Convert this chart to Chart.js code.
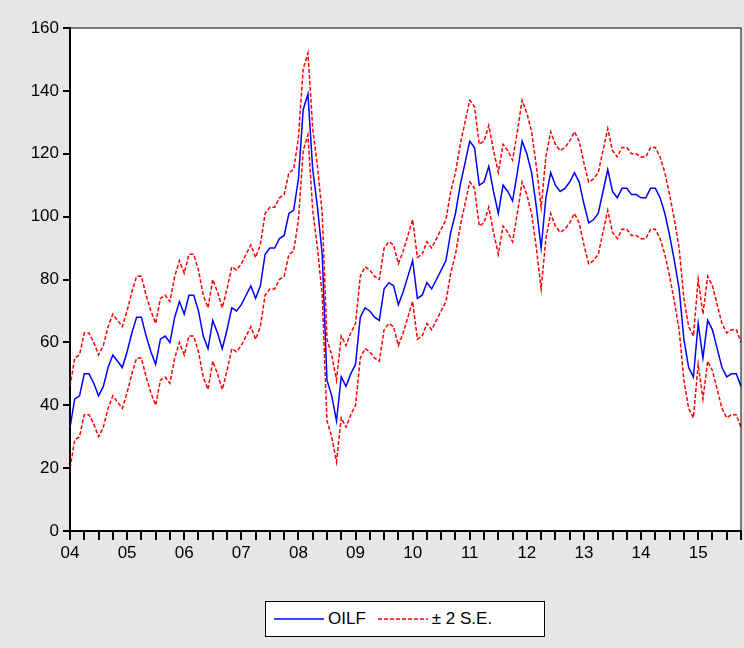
<!DOCTYPE html>
<html>
<head>
<meta charset="utf-8">
<script src="https://cdn.jsdelivr.net/npm/chart.js@4.4.0/dist/chart.umd.min.js"></script>
<style>
  body { margin: 0; background: #e6e6e6; }
  #wrap { position: relative; width: 744px; height: 648px; background: #e6e6e6; }
  #c { position: absolute; left: 0; top: 0; }
  #legend { position: absolute; left: 265px; top: 601px; width: 280px; height: 36px; background: #fff;
    border: 1px solid #000; font: 17px "Liberation Sans", Arial, sans-serif; display: flex; align-items: center; box-sizing: border-box; }
  #legend span { margin-right: 10px; }
</style>
</head>
<body>
<div id="wrap">
  <canvas id="c" width="744" height="575"></canvas>
  <div id="legend">
    <svg width="56" height="10" style="margin-left:6px"><line x1="2" y1="5" x2="52" y2="5" stroke="#0000ff" stroke-width="1.5"/></svg>
    <span>OILF</span>
    <svg width="56" height="10"><line x1="2" y1="5" x2="52" y2="5" stroke="#ff0000" stroke-width="1.5" stroke-dasharray="4,2"/></svg>
    <span>± 2 S.E.</span>
  </div>
</div>
<script>
const years = ['04','05','06','07','08','09','10','11','12','13','14','15'];
const oilf = [33,42,43,50,50,47,43,46,52,56,54,52, 57,63,68,68,62,57,53,61,62,60,68,73,
  69,75,75,70,62,58,67,63,58,64,71,70, 72,75,78,74,78,88,90,90,93,94,101,102,
  112,134,139,115,103,88,48,43,35,49,46,50, 53,68,71,70,68,67,77,79,78,72,76,81,
  86,74,75,79,77,80,83,86,95,101,110,117, 124,122,110,111,116,108,101,110,108,105,114,124,
  120,114,103,90,106,114,110,108,109,111,114,111, 104,98,99,101,108,115,108,106,109,109,107,107,
  106,106,109,109,106,101,94,86,77,61,52,49, 66,55,67,64,58,52,49,50,50,46];
const upper = [46,55,56,63,63,60,56,59,65,69,67,65, 70,76,81,81,75,70,66,74,75,73,81,86,
  82,88,88,83,75,71,80,76,71,77,84,83, 85,88,91,87,91,101,103,103,106,107,114,115,
  125,147,152,128,116,101,61,56,48,62,59,63, 66,81,84,83,81,80,90,92,91,85,89,94,
  99,87,88,92,90,93,96,99,108,114,123,130, 137,135,123,124,129,121,114,123,121,118,127,137,
  133,127,116,103,119,127,123,121,122,124,127,124, 117,111,112,114,121,128,121,119,122,122,120,120,
  119,119,122,122,119,114,107,99,90,74,65,62, 80,69,81,78,72,66,63,64,64,60];
const lower = [20,29,30,37,37,34,30,33,39,43,41,39, 44,50,55,55,49,44,40,48,49,47,55,60,
  56,62,62,57,49,45,54,50,45,51,58,57, 59,62,65,61,65,75,77,77,80,81,88,89,
  99,121,126,102,90,75,35,30,22,36,33,37, 40,55,58,57,55,54,64,66,65,59,63,68,
  73,61,62,66,64,67,70,73,82,88,97,104, 111,109,97,98,103,95,88,97,95,92,101,111,
  107,101,90,77,93,101,97,95,96,98,101,98, 91,85,86,88,95,102,95,93,96,96,94,94,
  93,93,96,96,93,88,81,73,64,48,39,36, 53,42,54,51,45,39,36,37,37,33];

const labels = oilf.map((v, i) => i % 12 === 0 ? years[i / 12] : '');

const frame = {
  id: 'frame',
  beforeDraw(chart) {
    const a = chart.chartArea, ctx = chart.ctx;
    ctx.save();
    ctx.fillStyle = '#fff';
    ctx.fillRect(a.left, a.top, a.right - a.left, a.bottom - a.top);
    ctx.restore();
  },
  afterDraw(chart) {
    const a = chart.chartArea, ctx = chart.ctx;
    ctx.save();
    ctx.strokeStyle = '#000';
    ctx.lineWidth = 1;
    ctx.strokeRect(a.left, a.top, a.right - a.left, a.bottom - a.top);
    ctx.restore();
  }
};

const band = { borderColor: '#ff0000', borderWidth: 1.5, borderDash: [4, 2], pointRadius: 0, tension: 0, fill: false };

new Chart(document.getElementById('c'), {
  type: 'line',
  data: {
    labels: labels,
    datasets: [
      Object.assign({ label: 'upper', data: upper }, band),
      Object.assign({ label: 'lower', data: lower }, band),
      { label: 'OILF', data: oilf, borderColor: '#0000ff', borderWidth: 1.5, pointRadius: 0, tension: 0 }
    ]
  },
  options: {
    responsive: false,
    animation: false,
    layout: { padding: { top: 28, right: 2, left: 0, bottom: 0 } },
    plugins: { legend: { display: false }, tooltip: { enabled: false } },
    scales: {
      x: {
        offset: false,
        afterBuildTicks: s => { s.ticks = s.ticks.filter(t => t.value % 3 === 0); },
        afterFit: s => { s.height = 44; },
        ticks: {
          autoSkip: false, maxRotation: 0, color: '#000',
          font: { family: 'Liberation Sans, Arial', size: 17 },
          callback: function (v) { return labels[v]; }
        },
        grid: { drawOnChartArea: false, tickLength: 9, color: '#000', lineWidth: 2 },
        border: { color: '#000', width: 2 }
      },
      y: {
        min: 0, max: 160,
        afterFit: s => { s.width = 70; },
        ticks: { stepSize: 20, color: '#000', font: { family: 'Liberation Sans, Arial', size: 17 }, padding: 4 },
        grid: { drawOnChartArea: false, tickLength: 7, color: '#000', lineWidth: 2 },
        border: { color: '#000', width: 2 }
      }
    }
  },
  plugins: [frame]
});
</script>
</body>
</html>
